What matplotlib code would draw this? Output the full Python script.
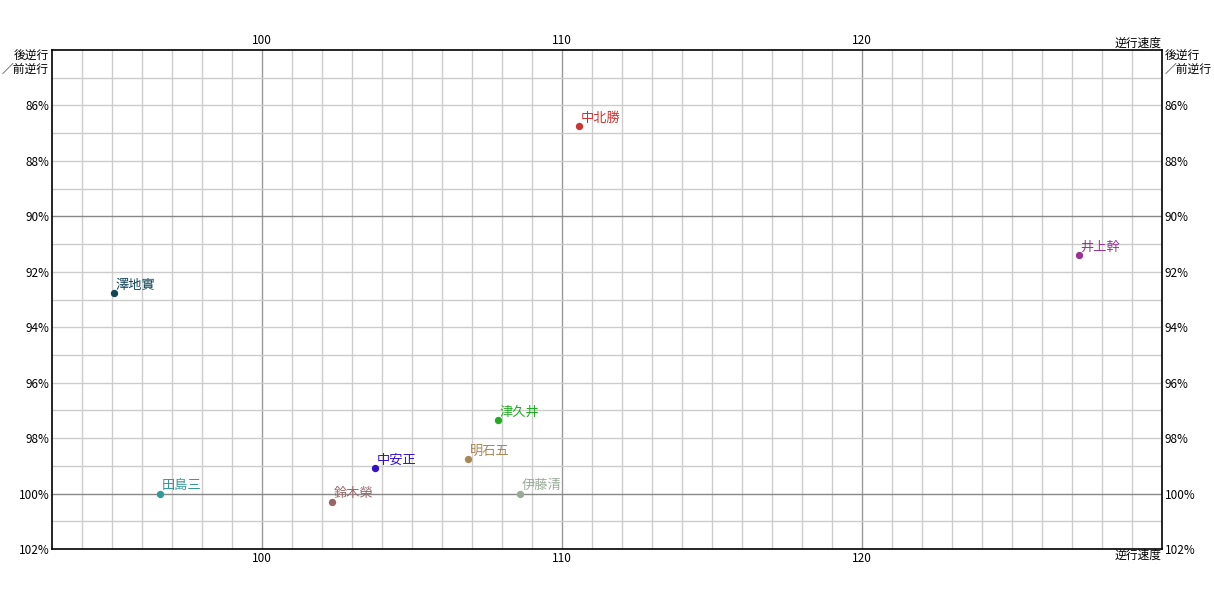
import matplotlib
matplotlib.use("Agg")
import matplotlib.pyplot as plt
from matplotlib.ticker import FuncFormatter

plt.rcParams['font.family'] = ['Noto Sans CJK JP', 'DejaVu Sans']

# data
names = ["中北勝", "井上幹", "澤地實", "津久井", "明石五", "中安正", "田島三", "鈴木榮", "伊藤清"]
speed = [110.57, 127.23, 95.07, 107.87, 106.87, 103.77, 96.6, 102.33, 108.6]
ratio = [86.74, 91.40, 92.77, 97.35, 98.75, 99.08, 100.0, 100.3, 100.0]
colors = ["#cc3333", "#993399", "#114455", "#22aa22", "#aa8855", "#3311cc", "#339999", "#996666", "#99aa99"]

x_major = [100, 110, 120]
y_major = [86, 88, 90, 92, 94, 96, 98, 100, 102]

fig = plt.figure(figsize=(12.14, 6.0), dpi=100)
ax = fig.add_axes([52 / 1214, 51 / 600, 1110 / 1214, 499 / 600])

ax.set_xlim(93, 130)
ax.set_ylim(102, 84)

# grid: thin lines every 1, darker at every 10 / 10%
for v in range(94, 130):
    ax.axvline(v, color="#999999" if v % 10 == 0 else "#cccccc", lw=1, zorder=0)
for v in range(85, 102):
    ax.axhline(v, color="#888888" if v % 10 == 0 else "#cccccc", lw=1, zorder=0)

ax.set_xticks(x_major)
ax.set_yticks(y_major)
ax.tick_params(axis="both", length=0, labelsize=8.5, pad=2,
               top=True, labeltop=True, right=True, labelright=True)
ax.yaxis.set_major_formatter(FuncFormatter(lambda v, p: f"{v:.0f}%"))
for s in ax.spines.values():
    s.set_color("black")
    s.set_linewidth(1.2)

for n, x, y, c in zip(names, speed, ratio, colors):
    ax.scatter(x, y, s=28, color=c, zorder=3, linewidths=0)
    ax.annotate(n, (x, y), xytext=(1, 1), textcoords="offset points",
                color=c, fontsize=9.5, ha="left", va="bottom", zorder=4)

# corner captions
ax.text(-0.003, 1.0, "後逆行\n／前逆行", transform=ax.transAxes, ha="right", va="top",
        fontsize=8.5, linespacing=0.95)
ax.text(1.002, 1.0, "後逆行\n／前逆行", transform=ax.transAxes, ha="left", va="top",
        fontsize=8.5, linespacing=0.95)
ax.text(1.0, 1.0, "逆行速度", transform=ax.transAxes, ha="right", va="bottom", fontsize=8.5)
ax.text(1.0, 0.0, "逆行速度", transform=ax.transAxes, ha="right", va="top", fontsize=8.5)

fig.savefig("out.png", dpi=100)
